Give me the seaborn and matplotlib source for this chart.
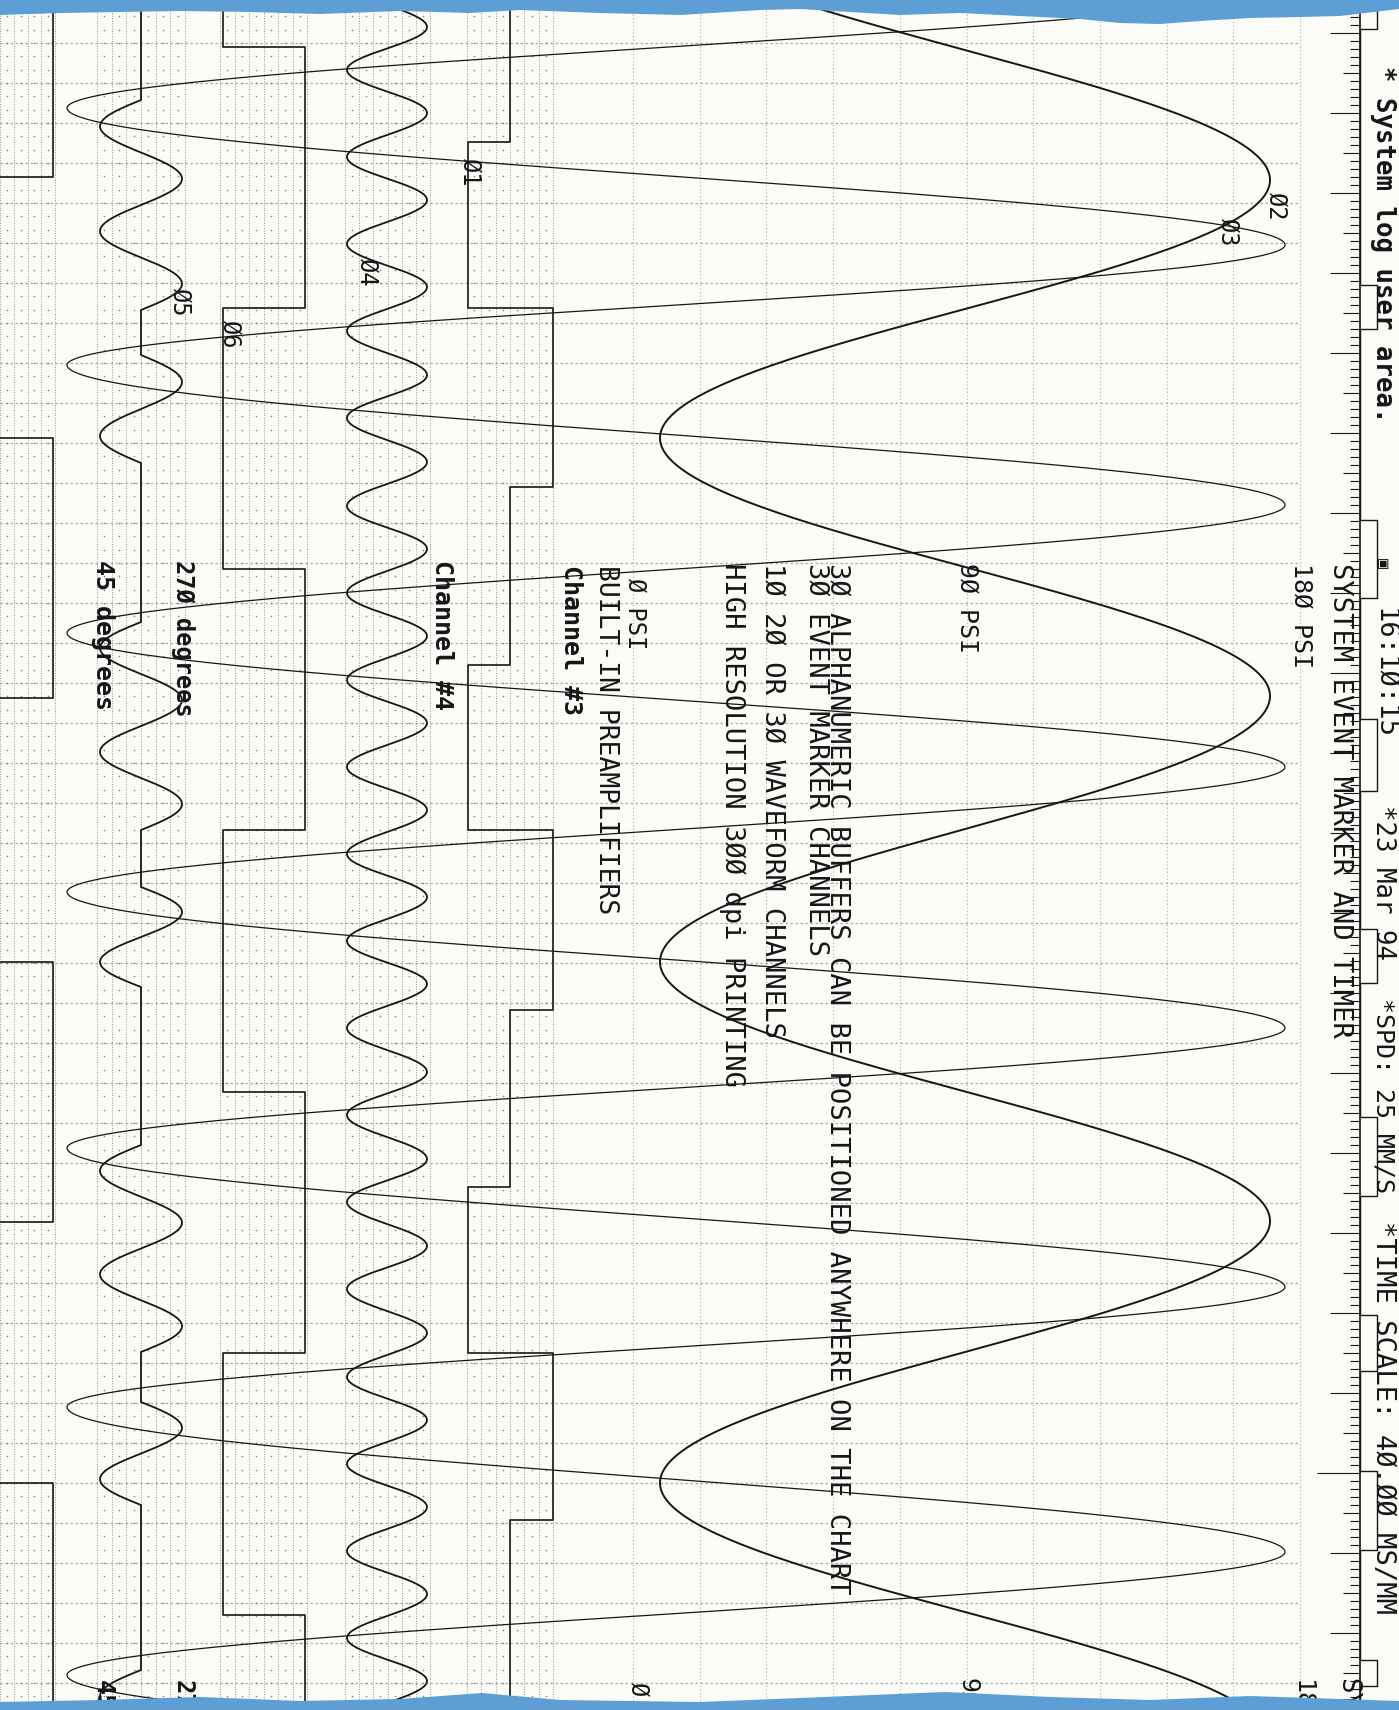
import numpy as np
import matplotlib.pyplot as plt
import seaborn as sns

# ---- data (page units: x across, t down the paper) ----
# channel 02 (PSI trace) turning points
ch2_peak_t = [-80, 180, 438, 696, 962, 1221, 1483, 1741]
ch2_peak_x = [660, 1270, 660, 1270, 660, 1270, 660, 1270]

# channel 03 (wide sine) turning points
ch3_peak_t = [-15, 108, 245, 365, 505, 633, 767, 892, 1028, 1148, 1287, 1407, 1552, 1675, 1812]
ch3_peak_x = [1285, 67, 1285, 67, 1285, 67, 1285, 67, 1285, 67, 1285, 67, 1285, 67, 1285]

# channel 04 (fast sine) turning points
ch4_peak_t = [-17, 27, 70, 113, 157, 200, 244, 287, 331, 375, 418, 462, 506, 549,
              593, 636, 680, 723, 767, 810, 854, 897, 941, 984, 1028, 1072, 1115,
              1159, 1202, 1246, 1289, 1333, 1377, 1420, 1464, 1507, 1551, 1594,
              1638, 1681, 1725]
ch4_peak_x = [347 if i % 2 == 0 else 427 for i in range(len(ch4_peak_t))]

# channel 05 (gated sine) bursts
ch5_on_start = [100, 355, 622, 887, 1145, 1402, 1670]
ch5_on_end = [310, 463, 830, 987, 1352, 1505, 1878]
ch5_half_waves = [4, 2, 4, 2, 4, 2, 4]
ch5_first_swing = [-1, 1, -1, 1, -1, 1, -1]
ch5_center, ch5_amp = 141, 41

# channel 06 (square wave)
ch6_switch_t = [47, 308, 569, 830, 1092, 1353, 1615]
ch6_levels = [223, 305, 223, 305, 223, 305, 223, 305]

# channel 01 (three level staircase)
ch1_switch_t = [142, 308, 487, 665, 830, 1010, 1187, 1353, 1520]
ch1_levels = [510, 468, 553, 510, 468, 553, 510, 468, 553, 510]

# leftmost unlabeled square channel
ch0_switch_t = [177, 438, 698, 962, 1222, 1483]
ch0_levels = [53, -6, 53, -6, 53, -6, 53]

# event marker pulses
event_on = [0, 285, 520, 719, 929, 1117, 1315, 1471, 1660]
event_off = [29, 329, 598, 791, 983, 1196, 1371, 1550, 1686]

# torn blue paper edges
top_edge_x = [0, 60, 120, 180, 250, 320, 400, 470, 520, 600, 680, 760, 800, 850,
              900, 960, 1020, 1080, 1120, 1160, 1200, 1250, 1300, 1340, 1399]
top_edge_y = [15, 13, 12, 11, 12, 14, 11, 13, 10, 13, 15, 10, 9, 12,
              15, 13, 16, 19, 23, 24, 21, 18, 17, 16, 9]
bot_edge_x = [0, 100, 200, 300, 400, 482, 560, 700, 800, 945, 1050, 1150, 1250, 1399]
bot_edge_y = [1702, 1700, 1697, 1701, 1699, 1693, 1700, 1702, 1698, 1692, 1697, 1700, 1696, 1701]

T_END = 1710
PAPER = "#fbfbf8"
INK = "#161616"
GRID = "#ababab"
BLUE = "#5d9fd4"

sns.set_theme(style="white")
plt.rcParams["font.family"] = ["DejaVu Sans Mono", "DejaVu Sans"]


def turning_curve(ts, xs, n=140):
    out_x, out_t = [], []
    for i in range(len(ts) - 1):
        s = np.linspace(0, 1, n)
        out_t.append(ts[i] + s * (ts[i + 1] - ts[i]))
        out_x.append(xs[i] + (xs[i + 1] - xs[i]) * (1 - np.cos(np.pi * s)) / 2)
    return np.concatenate(out_x), np.concatenate(out_t)


def step_path(switch_t, levels, t_end=T_END):
    bounds = [0] + list(switch_t) + [t_end]
    xs, ts = [], []
    for lv, a, b in zip(levels, bounds[:-1], bounds[1:]):
        xs += [lv, lv]
        ts += [a, b]
    return xs, ts


def gated_sine(starts, ends, halves, first, center, amp, t_end=T_END):
    xs, ts = [center], [0]
    for a, b, h, d in zip(starts, ends, halves, first):
        s = np.linspace(0, 1, 50 * h)
        xs += list(center + d * amp * np.sin(np.pi * h * s))
        ts += list(a + s * (b - a))
    xs.append(center)
    ts.append(t_end)
    return xs, ts


fig = plt.figure(figsize=(13.99, 17.10), dpi=100, facecolor=PAPER)
ax = fig.add_axes([0, 0, 1, 1])
ax.set_facecolor(PAPER)

# chart paper grid
rows = np.arange(43, T_END, 40)
ax.hlines(rows, 0, 1300, colors=GRID, linestyles=(0, (2, 2)), lw=0.9, zorder=1)
psi_cols = 633 + np.arange(11) * 66.7
ax.vlines(psi_cols, 0, T_END, colors=GRID, linestyles=(0, (1, 2.2)), lw=0.8, zorder=1)

bands = [(0, 55), (97, 185), (220, 307), (345, 430), (467, 553)]
fine_rows = np.arange(43 - 40, T_END, 40 / 3)
for a, b in bands:
    n = max(2, int(round((b - a) / 14)))
    cols = np.linspace(a, b, n + 1)
    ax.vlines(cols, 0, T_END, colors="#8f8f8f", linestyles=(0, (1, 1.6)), lw=0.7, zorder=1)
    mids = (cols[:-1] + cols[1:]) / 2
    gx, gy = np.meshgrid(mids, fine_rows)
    ax.scatter(gx.ravel(), gy.ravel(), s=1.4, color="#858585", lw=0, zorder=1)

# traces
x2, t2 = turning_curve(ch2_peak_t, ch2_peak_x)
sns.lineplot(x=x2, y=t2, sort=False, estimator=None, color=INK, lw=1.4, ax=ax, zorder=5)
x3, t3 = turning_curve(ch3_peak_t, ch3_peak_x, n=260)
sns.lineplot(x=x3, y=t3, sort=False, estimator=None, color=INK, lw=0.9, ax=ax, zorder=5)
x4, t4 = turning_curve(ch4_peak_t, ch4_peak_x, n=40)
sns.lineplot(x=x4, y=t4, sort=False, estimator=None, color=INK, lw=1.3, ax=ax, zorder=5)
x5, t5 = gated_sine(ch5_on_start, ch5_on_end, ch5_half_waves, ch5_first_swing, ch5_center, ch5_amp)
sns.lineplot(x=x5, y=t5, sort=False, estimator=None, color=INK, lw=1.3, ax=ax, zorder=5)
for sw, lv in [(ch6_switch_t, ch6_levels), (ch1_switch_t, ch1_levels), (ch0_switch_t, ch0_levels)]:
    xs, ts = step_path(sw, lv)
    sns.lineplot(x=xs, y=ts, sort=False, estimator=None, color=INK, lw=1.2, ax=ax, zorder=5)

# time ruler and event marker
ax.vlines(1360, 0, T_END, colors=INK, lw=1.2, zorder=6)
ticks = np.arange(1, T_END, 8)
for t in ticks:
    if (t - 33) % 80 == 0:
        ln = 43 if (t - 33) // 80 == 18 else 30
    elif (t - 73) % 80 == 0:
        ln = 17
    else:
        ln = 10
    ax.hlines(t, 1360 - ln, 1360, colors=INK, lw=0.8, zorder=6)
ev_switch = []
for a, b in zip(event_on, event_off):
    ev_switch += [a, b]
ev_switch = [t for t in ev_switch if t > 0]
ev_levels = [1377 if i % 2 == 0 else 1360 for i in range(len(ev_switch) + 1)]
ex, et = step_path(ev_switch, ev_levels)
sns.lineplot(x=ex, y=et, sort=False, estimator=None, color=INK, lw=1.0, ax=ax, zorder=6)

# printed text
notes = [
    ("* System log user area.", 1383, 66, 18.5, "bold"),
    ("\u25a3", 1383, 558, 12, "normal"),
    ("16:1\u00d8:15", 1383, 608, 19.5, "normal"),
    ("*23 Mar 94", 1383, 805, 18.5, "normal"),
    ("*SPD: 25 MM/S", 1383, 998, 18, "normal"),
    ("*TIME SCALE: 4\u00d8.\u00d8\u00d8 MS/MM", 1383, 1221, 19.5, "normal"),
    ("SYSTEM EVENT MARKER AND TIMER", 1340, 563, 19.5, "normal"),
    ("18\u00d8 PSI", 1302, 563, 18, "normal"),
    ("9\u00d8 PSI", 968, 563, 18, "normal"),
    ("1\u00d8 2\u00d8 OR 3\u00d8 WAVEFORM CHANNELS", 772, 563, 19.5, "normal"),
    ("HIGH RESOLUTION 3\u00d8\u00d8 dpi PRINTING", 732, 563, 19.5, "normal"),
    ("\u00d8 PSI", 636, 578, 17, "normal"),
    ("BUILT-IN PREAMPLIFIERS", 606, 565, 19, "normal"),
    ("Channel #3", 571, 565, 18, "bold"),
    ("Channel #4", 442, 560, 18, "bold"),
    ("27\u00d8 degrees", 183, 560, 17, "bold"),
    ("45 degrees", 103, 560, 18, "bold"),
    ("\u00d81", 470, 158, 17, "normal"),
    ("\u00d82", 1276, 192, 17, "normal"),
    ("\u00d83", 1228, 218, 17, "normal"),
    ("\u00d84", 367, 258, 17, "normal"),
    ("\u00d85", 180, 288, 17, "normal"),
    ("\u00d86", 230, 320, 17, "normal"),
    ("45", 103, 1680, 18, "bold"),
    ("27", 183, 1680, 17, "bold"),
    ("\u00d8", 638, 1682, 17, "normal"),
    ("9\u00d8", 968, 1678, 18, "normal"),
    ("18", 1302, 1680, 18, "normal"),
    ("SY", 1347, 1678, 18.5, "normal"),
]
for s, x, y, fs, w in notes:
    ax.text(x, y, s, rotation=-90, ha="center", va="top", fontsize=fs,
            fontweight=w, color=INK, zorder=8)

# two tightly stacked lines printed as one block
ax.text(826, 563,
        "3\u00d8 ALPHANUMERIC BUFFERS CAN BE POSITIONED ANYWHERE ON THE CHART\n"
        "3\u00d8 EVENT MARKER CHANNELS",
        rotation=-90, ha="center", va="top", fontsize=19.5, linespacing=0.78,
        multialignment="left", color=INK, zorder=8)

# torn paper edges
ax.fill_between(top_edge_x, 0, top_edge_y, color=BLUE, lw=0, zorder=20)
ax.fill_between(bot_edge_x, bot_edge_y, T_END, color=BLUE, lw=0, zorder=20)

ax.set_xlim(0, 1399)
ax.set_ylim(T_END, 0)
ax.axis("off")
fig.savefig("out.png", dpi=100, facecolor=PAPER)
